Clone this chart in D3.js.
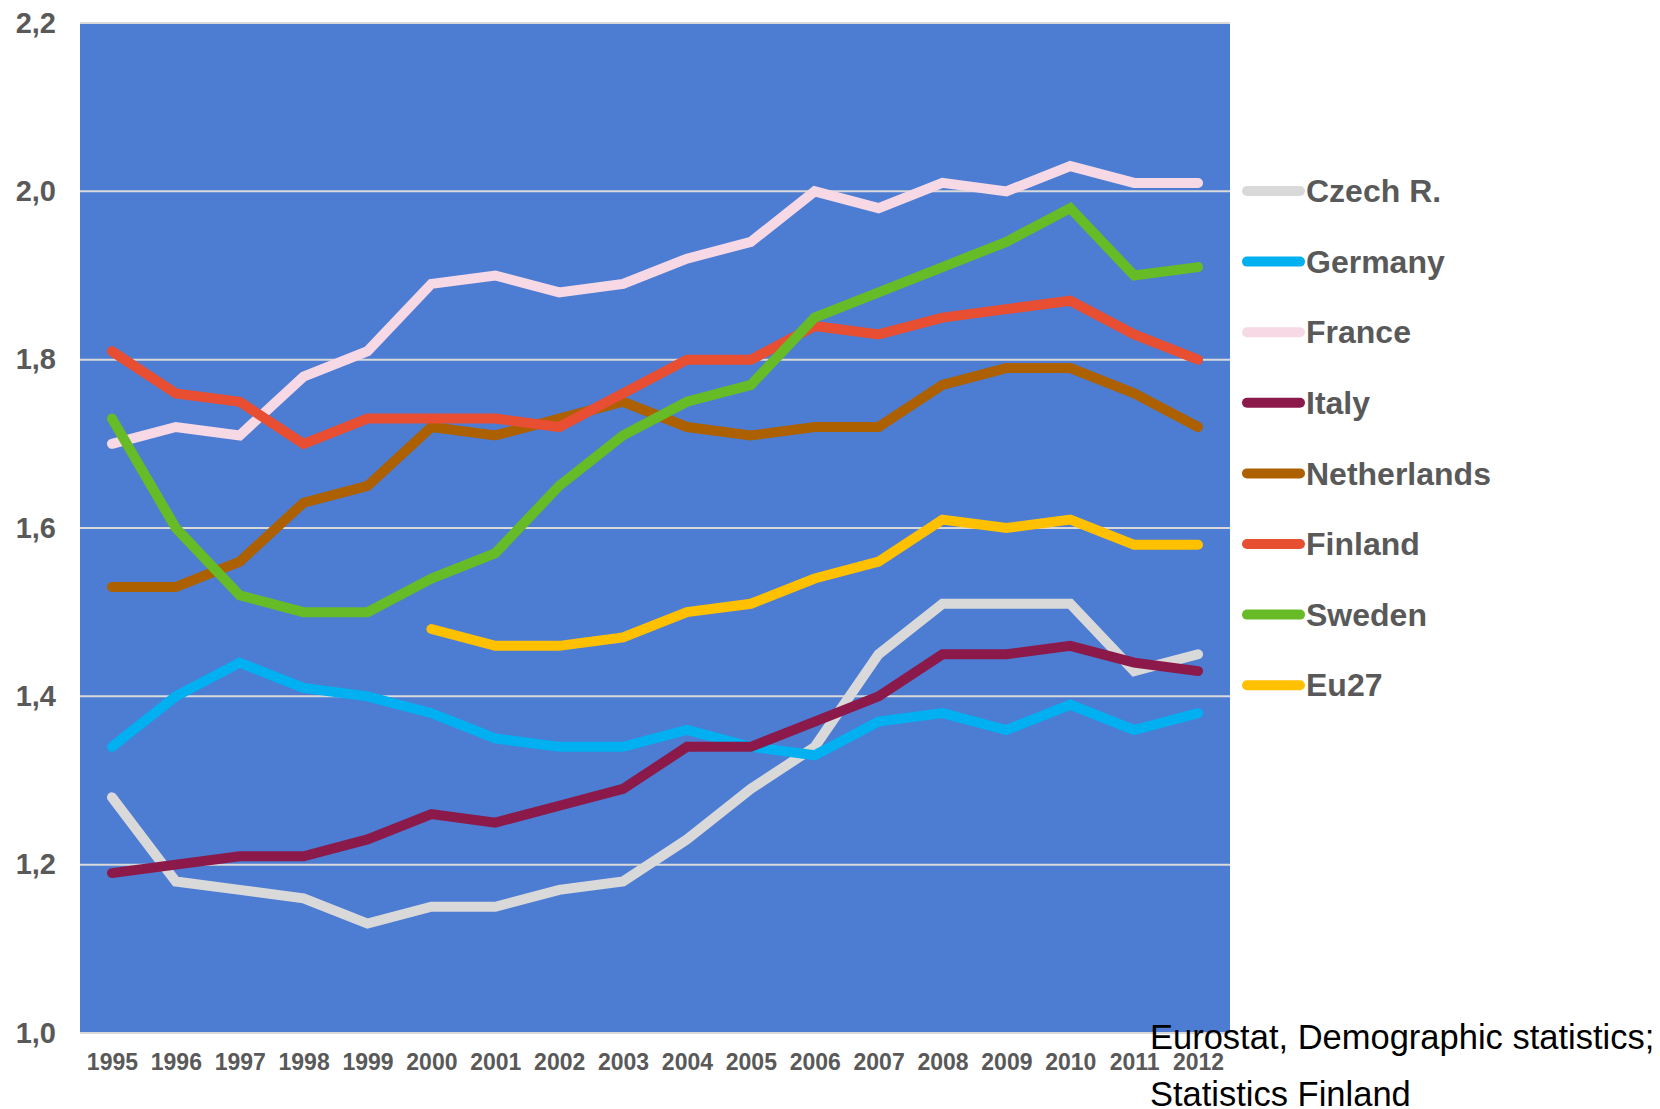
<!DOCTYPE html>
<html>
<head>
<meta charset="utf-8">
<script src="https://cdn.jsdelivr.net/npm/d3@7"></script>
<style>
  body { margin: 0; background: #fff; }
  text { font-family: "Liberation Sans", Arial, sans-serif; }
</style>
</head>
<body>
<div id="chart"></div>
<script>
// data
var years = ["1995","1996","1997","1998","1999","2000","2001","2002","2003","2004","2005","2006","2007","2008","2009","2010","2011","2012"];
var czech       = [1.28,1.18,1.17,1.16,1.13,1.15,1.15,1.17,1.18,1.23,1.29,1.34,1.45,1.51,1.51,1.51,1.43,1.45];
var germany     = [1.34,1.40,1.44,1.41,1.40,1.38,1.35,1.34,1.34,1.36,1.34,1.33,1.37,1.38,1.36,1.39,1.36,1.38];
var france      = [1.70,1.72,1.71,1.78,1.81,1.89,1.90,1.88,1.89,1.92,1.94,2.00,1.98,2.01,2.00,2.03,2.01,2.01];
var italy       = [1.19,1.20,1.21,1.21,1.23,1.26,1.25,1.27,1.29,1.34,1.34,1.37,1.40,1.45,1.45,1.46,1.44,1.43];
var netherlands = [1.53,1.53,1.56,1.63,1.65,1.72,1.71,1.73,1.75,1.72,1.71,1.72,1.72,1.77,1.79,1.79,1.76,1.72];
var finland     = [1.81,1.76,1.75,1.70,1.73,1.73,1.73,1.72,1.76,1.80,1.80,1.84,1.83,1.85,1.86,1.87,1.83,1.80];
var sweden      = [1.73,1.60,1.52,1.50,1.50,1.54,1.57,1.65,1.71,1.75,1.77,1.85,1.88,1.91,1.94,1.98,1.90,1.91];
var eu27        = [null,null,null,null,null,1.48,1.46,1.46,1.47,1.50,1.51,1.54,1.56,1.61,1.60,1.61,1.58,1.58];

var seriesNames = ["Czech R.","Germany","France","Italy","Netherlands","Finland","Sweden","Eu27"];
var seriesValues = [czech, germany, france, italy, netherlands, finland, sweden, eu27];
var seriesColors = ["#d9d9d9","#00b0f0","#f7d8e5","#8b1a4b","#ad6000","#e84e31","#66bb27","#ffc000"];
var yTicks = [1.0,1.2,1.4,1.6,1.8,2.0,2.2];

var width = 1660, height = 1109;
var plot = { left: 80, right: 1230, top: 23, bottom: 1033 };

var svg = d3.select("#chart").append("svg")
    .attr("width", width)
    .attr("height", height);

var x = d3.scalePoint()
    .domain(years)
    .range([plot.left, plot.right])
    .padding(0.5);

var y = d3.scaleLinear()
    .domain([1.0, 2.2])
    .range([plot.bottom, plot.top]);

// plot background
svg.append("rect")
    .attr("x", plot.left)
    .attr("y", plot.top)
    .attr("width", plot.right - plot.left)
    .attr("height", plot.bottom - plot.top)
    .attr("fill", "#4d7cd3");

// gridlines
svg.append("g")
    .selectAll("line")
    .data(yTicks)
    .enter()
    .append("line")
    .attr("x1", plot.left)
    .attr("x2", plot.right)
    .attr("y1", d => y(d))
    .attr("y2", d => y(d))
    .attr("stroke", "#d9d9d9")
    .attr("stroke-width", 2);

// y axis labels
var yAxis = d3.axisLeft(y)
    .tickValues(yTicks)
    .tickSize(0)
    .tickPadding(24)
    .tickFormat(d => d3.format(".1f")(d).replace(".", ","));

svg.append("g")
    .attr("transform", "translate(" + plot.left + ",0)")
    .call(yAxis)
    .call(g => g.select(".domain").remove())
    .selectAll("text")
    .attr("fill", "#595959")
    .style("font-size", "29px")
    .style("font-weight", "bold");

// x axis labels
var xAxis = d3.axisBottom(x).tickSize(0).tickPadding(21);

svg.append("g")
    .attr("transform", "translate(0," + plot.bottom + ")")
    .call(xAxis)
    .call(g => g.select(".domain").remove())
    .selectAll("text")
    .attr("fill", "#595959")
    .style("font-size", "23px")
    .style("font-weight", "bold");

var line = d3.line()
    .defined(d => d.v !== null)
    .x(d => x(d.year))
    .y(d => y(d.v));

seriesValues.forEach(function(vals, i) {
    var pts = years.map((yr, j) => ({ year: yr, v: vals[j] }));
    svg.append("path")
        .datum(pts)
        .attr("d", line)
        .attr("fill", "none")
        .attr("stroke", seriesColors[i])
        .attr("stroke-width", 10)
        .attr("stroke-linecap", "round")
        .attr("stroke-linejoin", "miter");
});

// legend
var legend = svg.append("g");
var legendTop = 191, legendStep = 70.6;

var items = legend.selectAll("g")
    .data(seriesNames)
    .enter()
    .append("g")
    .attr("transform", (d, i) => "translate(0," + (legendTop + i * legendStep) + ")");

items.append("line")
    .attr("x1", 1247)
    .attr("x2", 1300)
    .attr("stroke", (d, i) => seriesColors[i])
    .attr("stroke-width", 10)
    .attr("stroke-linecap", "round");

items.append("text")
    .attr("x", 1306)
    .attr("dy", "0.35em")
    .attr("fill", "#595959")
    .style("font-size", "32px")
    .style("font-weight", "bold")
    .text(d => d);

// source note
svg.append("text")
    .attr("x", 1150)
    .attr("y", 1037)
    .attr("dy", "0.35em")
    .style("font-size", "34.5px")
    .attr("fill", "#000")
    .text("Eurostat, Demographic statistics;");

svg.append("text")
    .attr("x", 1150)
    .attr("y", 1094)
    .attr("dy", "0.35em")
    .style("font-size", "34.5px")
    .attr("fill", "#000")
    .text("Statistics Finland");
</script>
</body>
</html>
